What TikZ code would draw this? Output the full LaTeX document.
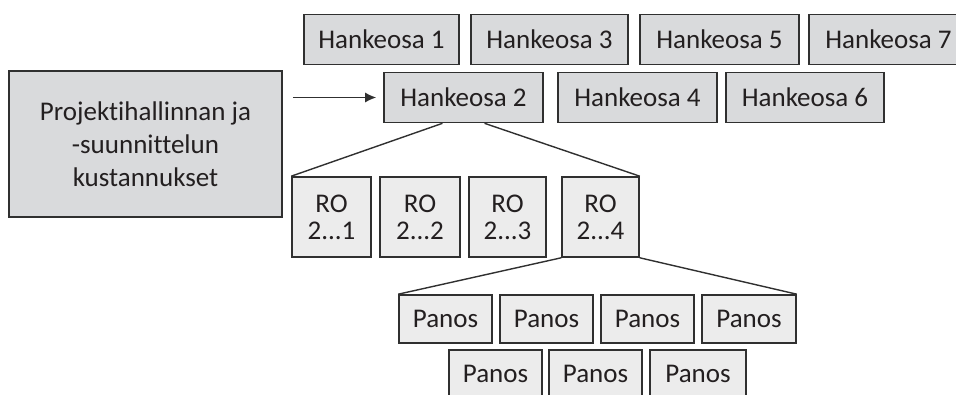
\documentclass[tikz,border=0pt]{standalone}
\usepackage{fontspec}
\setmainfont{Carlito}[Ligatures=CommonOff]
\usetikzlibrary{calc,arrows.meta}
\definecolor{darkfill}{HTML}{D9DADC}
\definecolor{lightfill}{HTML}{ECECEC}
\definecolor{edge}{HTML}{303030}
\definecolor{ink}{HTML}{231F20}
\tikzset{
  basebox/.style={draw=edge, line width=1.6pt, inner sep=0pt, text=ink, align=center,
    font=\fontsize{27}{27}\selectfont},
  hbox/.style={basebox, fill=darkfill, minimum height=50pt},
  robox/.style={basebox, fill=lightfill, minimum height=80pt},
  pbox/.style={basebox, fill=lightfill, minimum height=48pt, minimum width=93pt},
  link/.style={draw=edge, line width=1.4pt}
}
\begin{document}
\begin{tikzpicture}[x=1pt,y=-1pt]
\useasboundingbox (0,0) rectangle (956,394);
\clip (0,0) rectangle (956,394);
\node[basebox, fill=darkfill, minimum width=273pt, minimum height=146pt,
  font=\fontsize{27}{33}\selectfont] (big) at (145.5,144)
  {Projektihallinnan ja\\-suunnittelun\\kustannukset};
% top row
\node[hbox, minimum width=155pt] (h1) at (381.5,39.5) {Hankeosa 1};
\node[hbox, minimum width=157pt] (h3) at (549.5,39.5) {Hankeosa 3};
\node[hbox, minimum width=159pt] (h5) at (719.5,39.5) {Hankeosa 5};
\node[hbox, minimum width=159pt] (h7) at (888.5,39.5) {Hankeosa 7};
% second row
\node[hbox, minimum width=159pt] (h2) at (463.5,97.5) {Hankeosa 2};
\node[hbox, minimum width=159pt] (h4) at (637.5,97.5) {Hankeosa 4};
\node[hbox, minimum width=158pt] (h6) at (805,97.5) {Hankeosa 6};
% RO boxes
\node[robox, minimum width=79pt] (ro1) at (331.5,217) {RO\\2...1};
\node[robox, minimum width=80pt] (ro2) at (420,217) {RO\\2...2};
\node[robox, minimum width=77pt] (ro3) at (507.5,217) {RO\\2...3};
\node[robox, minimum width=77pt] (ro4) at (600.5,217) {RO\\2...4};
% Panos boxes
\node[pbox] (p1) at (445.5,319) {Panos};
\node[pbox] (p2) at (546.5,319) {Panos};
\node[pbox] (p3) at (647.5,319) {Panos};
\node[pbox, minimum width=94pt] (p4) at (749,319) {Panos};
\node[pbox] (p5) at (495.5,374) {Panos};
\node[pbox] (p6) at (595.5,374) {Panos};
\node[pbox, minimum width=96pt] (p7) at (698,374) {Panos};
% connectors
\draw[link, -{Latex[length=11pt,width=10pt]}, shorten <=10pt, shorten >=7pt]
  (big.east |- h2.west) -- (h2.west);
\draw[link] ($(h2.south)+(-21,0)$) -- (ro1.north west);
\draw[link] ($(h2.south)+(21,0)$) -- (ro4.north east);
\draw[link] (ro4.south west) -- (p1.north west);
\draw[link] (ro4.south east) -- (p4.north east);
\end{tikzpicture}
\end{document}
